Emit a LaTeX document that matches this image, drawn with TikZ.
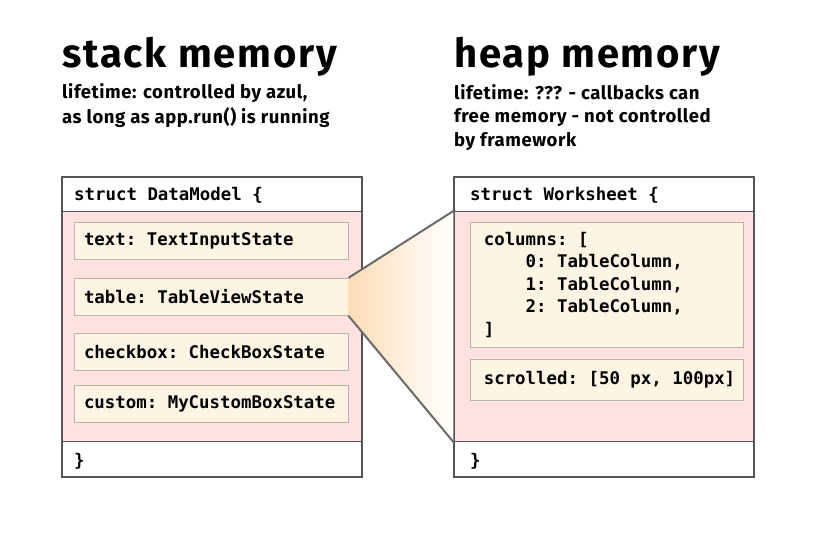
\documentclass[tikz,border=0pt]{standalone}
\usepackage{fontspec}
\setmainfont{Fira Sans}
\setmonofont{DejaVu Sans Mono}
\newfontfamily\titlefont{Fira Sans}[LetterSpace=4.5]
\newfontfamily\subfont{Fira Sans}[LetterSpace=3.0]
\usetikzlibrary{shadings}
\definecolor{pinkbg}{HTML}{FFE1DF}
\definecolor{creambg}{HTML}{FDF4E4}
\definecolor{fieldline}{HTML}{B8B2A8}
\definecolor{outerline}{HTML}{555555}
\definecolor{connline}{HTML}{6A6A6A}
\definecolor{oA}{HTML}{FCDDB8}
\definecolor{oB}{HTML}{FBD2A2}
\pgfdeclarehorizontalshading{fade}{100bp}{color(0bp)=(oA); color(12bp)=(oB); color(30bp)=(oB!70!white); color(75bp)=(white); color(100bp)=(white)}
\newcommand{\spc}{\phantom{x}}
\tikzset{
  outerbox/.style={draw=outerline, line width=1.1pt, fill=white, inner sep=0pt, minimum width=300pt, minimum height=300pt},
  pinkarea/.style={draw=outerline, line width=1.1pt, fill=pinkbg, inner sep=0pt, minimum width=300pt, minimum height=230pt},
  field/.style={draw=fieldline, line width=0.8pt, fill=creambg, inner sep=0pt, inner xsep=10pt, align=left, font=\codefont},
  code/.style={inner sep=0pt, font=\codefont},
  title/.style={inner sep=0pt, anchor=base west, font=\fontsize{40}{44}\titlefont\bfseries},
  subtitle/.style={inner sep=0pt, anchor=base west, align=left, font=\fontsize{18.5}{23.5}\subfont\bfseries},
  conn/.style={draw=connline, line width=2pt}
}
\newcommand{\codefont}{\fontsize{17.4}{22.5}\selectfont\ttfamily\bfseries}
\begin{document}
\begin{tikzpicture}[x=1pt,y=-1pt]
\useasboundingbox[fill=white] (0,0) rectangle (822,549);
% titles
\node[title] (ltitle) at (62,67) {stack memory};
\node[title] (rtitle) at (454,67) {heap memory};
\node[subtitle] (lsub1) at (62,98) {lifetime: controlled by azul,};
\node[subtitle] (lsub2) at (62,123) {as long as app.run() is running};
\node[subtitle] (rsub1) at (454,99) {lifetime: ??? - callbacks can};
\node[subtitle] (rsub2) at (454,122.5) {free memory - not controlled};
\node[subtitle] (rsub3) at (454,146) {by framework};
% left struct
\node[outerbox] (lbox) at (212,327) {};
\node[pinkarea] (lpink) at (212,326.5) {};
\node[code, anchor=base west] (lhead) at (74,200) {struct\spc DataModel\spc\{};
\node[code, anchor=base west] (lfoot) at (74,466) {\}};
\node[field, minimum width=274pt, minimum height=37pt, text width=254pt] (ftext) at (211,240.8) {text:\spc TextInputState};
\node[field, minimum width=274pt, minimum height=37pt, text width=254pt] (ftable) at (211,296.8) {table:\spc TableViewState};
\node[field, minimum width=274pt, minimum height=37pt, text width=254pt] (fcheck) at (211,351.8) {checkbox:\spc CheckBoxState};
\node[field, minimum width=274pt, minimum height=37pt, text width=254pt] (fcustom) at (211,403.5) {custom:\spc MyCustomBoxState};
% right struct
\node[outerbox] (rbox) at (604,327) {};
\node[pinkarea] (rpink) at (604,326.5) {};
\node[code, anchor=base west] (rhead) at (470,200) {struct\spc Worksheet\spc\{};
\node[code, anchor=base west] (rfoot) at (470,466) {\}};
\node[field, inner xsep=13.5pt, minimum width=273.4pt, minimum height=125pt, text width=246.4pt] (fcols) at (607,284.8) {columns:\spc[\\\phantom{xxxx}0:\spc TableColumn,\\\phantom{xxxx}1:\spc TableColumn,\\\phantom{xxxx}2:\spc TableColumn,\\{]}};
\node[field, inner xsep=13.5pt, minimum width=273.4pt, minimum height=41.4pt, text width=246.4pt] (fscroll) at (607,380) {scrolled:\spc[50\spc px,\spc 100px]};
% zoom connector
\shade[shading=fade] (ftable.north east) -- (rpink.north west) -- (rpink.south west) -- (ftable.south east) -- cycle;
\draw[conn] (ftable.north east) -- (rpink.north west);
\draw[conn] (ftable.south east) -- (rpink.south west);
\end{tikzpicture}
\end{document}
